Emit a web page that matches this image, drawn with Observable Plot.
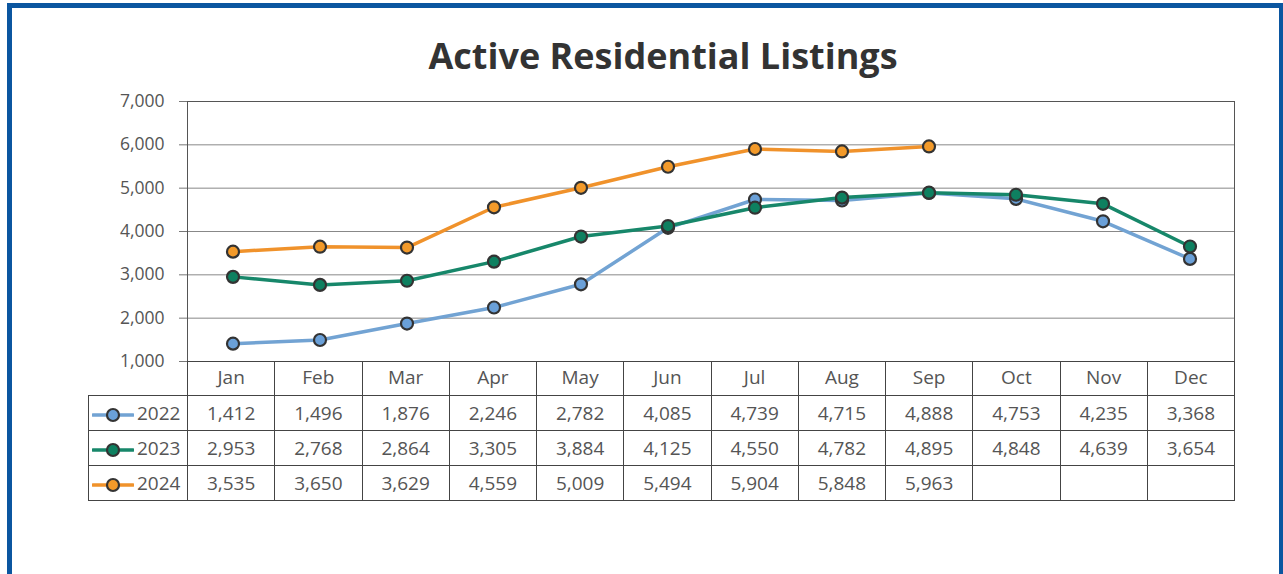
<!DOCTYPE html>
<html>
<head>
<meta charset="utf-8">
<script src="https://cdn.jsdelivr.net/npm/d3@7"></script>
<script src="https://cdn.jsdelivr.net/npm/@observablehq/plot@0.6"></script>
<style>
  html, body { margin: 0; padding: 0; background: #fff; width: 1283px; height: 574px; overflow: hidden; font-family: "Open Sans", sans-serif; }
  #frame { position: absolute; left: 7px; top: 3px; width: 1267px; height: 600px; border: 5px solid #0b56a0; box-sizing: content-box; }
  #title { position: absolute; left: 0; top: 32px; width: 1326px; text-align: center; font-size: 36px; font-weight: 700; color: #333; line-height: 48px; }
  #chart { position: absolute; left: 0; top: 0; width: 1283px; height: 574px; }
  #tbl { position: absolute; left: 88px; top: 361px; border-collapse: collapse; table-layout: fixed; font-size: 19px; color: #555; }
  #tbl td { border: 1px solid #444; text-align: center; padding: 0; white-space: nowrap; }
  #tbl tr.hdr td { height: 30px; padding-bottom: 3px; }
  #tbl tr.row td { height: 34px; }
  #tbl td.blank { border: none; border-right: 1px solid #444; }
  #tbl td.leg { text-align: left; padding-left: 3px; }
  #tbl td.leg svg { vertical-align: middle; margin-right: 3px; }
</style>
</head>
<body>
<div id="frame"></div>
<div id="title">Active Residential Listings</div>
<div id="chart"></div>
<table id="tbl"></table>
<script>
const months = ["Jan","Feb","Mar","Apr","May","Jun","Jul","Aug","Sep","Oct","Nov","Dec"];
const series = ["2022","2023","2024"];
const v2022 = [1412,1496,1876,2246,2782,4085,4739,4715,4888,4753,4235,3368];
const v2023 = [2953,2768,2864,3305,3884,4125,4550,4782,4895,4848,4639,3654];
const v2024 = [3535,3650,3629,4559,5009,5494,5904,5848,5963];
const yTicks = [1000,2000,3000,4000,5000,6000,7000];
const lineColors = ["#72a3d3","#17876a","#f0922b"];
const fillColors = ["#6aa0d8","#0e8060","#f39a2a"];

const valuesBySeries = [v2022, v2023, v2024];
const data = [];
series.forEach((s, i) => {
  valuesBySeries[i].forEach((v, j) => data.push({series: s, month: months[j], value: v}));
});

const W = 1283, plotTop = 91, bottomY = 361;
const plot = Plot.plot({
  width: W,
  height: bottomY - plotTop,
  marginTop: 10,
  marginBottom: 0,
  marginLeft: 187,
  marginRight: 49,
  style: {fontFamily: "'Open Sans', sans-serif", fontSize: "17px", color: "#555", overflow: "visible", maxWidth: "none"},
  x: {type: "band", domain: months, padding: 0, axis: null},
  y: {domain: [1000, 7000], ticks: yTicks, axis: null},
  color: {domain: series, range: lineColors},
  marks: [
    Plot.gridY(yTicks, {stroke: "#888", strokeOpacity: 1, strokeWidth: 1}),
    Plot.axisY({ticks: yTicks, tickSize: 8, tickPadding: 15, stroke: "#777", tickFormat: d3.format(","), fill: "#555", label: null, fontSize: 17.5}),
    Plot.frame({stroke: "#555", strokeWidth: 1}),
    Plot.line(data, {x: "month", y: "value", z: "series", stroke: "series", strokeWidth: 3.5, curve: "linear"}),
    Plot.dot(data, {x: "month", y: "value", r: 6, fill: d => fillColors[series.indexOf(d.series)], stroke: "#333", strokeWidth: 2.2})
  ]
});
const holder = document.getElementById("chart");
plot.style.position = "absolute";
plot.style.top = plotTop + "px";
plot.style.left = "0px";
plot.style.maxWidth = "none";
holder.appendChild(plot);

// data table below the chart
const colW = (1234 - 187) / months.length;
const tbl = d3.select("#tbl");
const cg = tbl.append("colgroup");
cg.append("col").style("width", "99px");
months.forEach(() => cg.append("col").style("width", colW + "px"));
tbl.style("width", (99 + colW * months.length) + "px");

const hdr = tbl.append("tr").attr("class", "hdr");
hdr.append("td").attr("class", "blank");
months.forEach(m => hdr.append("td").text(m));

const fmt = d3.format(",");
series.forEach((s, i) => {
  const tr = tbl.append("tr").attr("class", "row");
  const leg = tr.append("td").attr("class", "leg");
  const sv = leg.append("svg").attr("width", 42).attr("height", 16);
  sv.append("line").attr("x1", 1).attr("x2", 41).attr("y1", 8).attr("y2", 8)
    .attr("stroke", lineColors[i]).attr("stroke-width", 3.5).attr("stroke-linecap", "round");
  sv.append("circle").attr("cx", 21).attr("cy", 8).attr("r", 6)
    .attr("fill", fillColors[i]).attr("stroke", "#333").attr("stroke-width", 2.2);
  leg.append("span").text(s);
  months.forEach((m, j) => {
    const v = valuesBySeries[i][j];
    tr.append("td").text(v == null ? "" : fmt(v));
  });
});
</script>
</body>
</html>
